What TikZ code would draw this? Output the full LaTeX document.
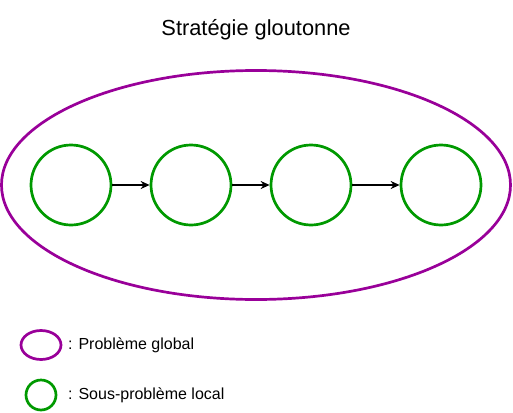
\documentclass[tikz,border=0pt]{standalone}
\usepackage{fontspec}
\setmainfont{Liberation Sans}
\usetikzlibrary{shapes.geometric,arrows.meta}
\definecolor{gpurple}{HTML}{990099}
\definecolor{ggreen}{HTML}{009900}
\tikzset{
  sub/.style={circle,draw=ggreen,line width=2.7pt,minimum size=80pt,inner sep=0pt},
  glob/.style={ellipse,draw=gpurple,line width=2.7pt,inner sep=0pt},
  conn/.style={-{Stealth[length=9pt,width=8pt]},line width=1.5pt,black},
  legtext/.style={anchor=west,font=\fontsize{16pt}{19pt}\selectfont,inner sep=0pt},
}
\begin{document}
\begin{tikzpicture}[x=1pt,y=-1pt]
\useasboundingbox (0,0) rectangle (513,412);
\node[font=\fontsize{21.8pt}{26pt}\selectfont] (title) at (256,30) {Stratégie gloutonne};
\node[glob,minimum width=509pt,minimum height=229pt] (big) at (256,185) {};
\node[sub] (c1) at (71,185) {};
\node[sub] (c2) at (191,185) {};
\node[sub] (c3) at (311,185) {};
\node[sub] (c4) at (441,185) {};
\draw[conn] (c1) -- (c2);
\draw[conn] (c2) -- (c3);
\draw[conn] (c3) -- (c4);
\node[glob,minimum width=40pt,minimum height=29pt] (lg) at (41,345) {};
\node[legtext] (lgt) at (68,345) {: Problème global};
\node[sub,minimum size=30pt] (ls) at (41,395) {};
\node[legtext] (lst) at (68,395) {: Sous-problème local};
\end{tikzpicture}
\end{document}
